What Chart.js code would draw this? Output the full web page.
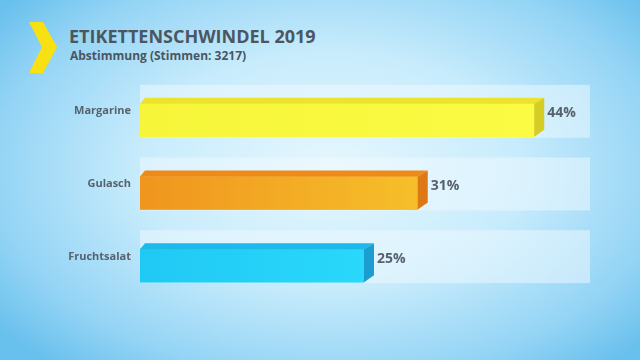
<!DOCTYPE html>
<html><head><meta charset="utf-8">
<script src="https://cdn.jsdelivr.net/npm/chart.js@4/dist/chart.umd.min.js"></script>
<style>
html,body{margin:0;padding:0;width:640px;height:360px;overflow:hidden;}
body{background:
 radial-gradient(ellipse 420px 260px at 330px 170px, rgba(230,247,254,1) 0%, rgba(200,236,252,1) 45%, rgba(148,212,245,1) 80%, rgba(104,192,237,1) 100%);
 background-color:#8fd0f0;position:relative;font-family:"Open Sans",sans-serif;}
#wrap{position:absolute;left:0;top:0;width:640px;height:360px;}
#title{position:absolute;left:69px;top:24px;font-weight:700;font-size:18px;color:#4b5661;line-height:24px;white-space:nowrap;}
#sub{position:absolute;left:70px;top:47px;font-weight:700;font-size:12px;color:#4b5661;line-height:18px;white-space:nowrap;}
svg{position:absolute;left:0;top:0;}
</style></head>
<body>
<svg width="80" height="90"><polygon points="29,22 43,22 57,47 43,73 29,73 42,47" fill="#f9e012"/></svg>
<div id="title">ETIKETTENSCHWINDEL 2019</div>
<div id="sub">Abstimmung (Stimmen: 3217)</div>
<div id="wrap"><canvas id="c" width="640" height="360"></canvas></div>
<script>
const categories = ["Margarine", "Gulasch", "Fruchtsalat"];
const values = [44, 31, 25];
const valueLabels = ["44%", "31%", "25%"];
const axisMax = 50;

const frontColors = ["#f9f83e", "#f4a823", "#25d3f8"];
const topColors = ["#ebe32c", "#ee8a18", "#1cb9ea"];
const sideColors = ["#d6cd22", "#de7814", "#1b9dd2"];

const DX = 10, DY = 6;

const panelPlugin = {
  id: 'panels',
  beforeDatasetsDraw(chart) {
    const ctx = chart.ctx, area = chart.chartArea;
    const meta = chart.getDatasetMeta(0);
    ctx.save();
    meta.data.forEach(bar => {
      const top = bar.y - bar.height / 2 - 19;
      const bot = bar.y + bar.height / 2 + 1;
      ctx.fillStyle = 'rgba(240,250,255,0.5)';
      ctx.fillRect(area.left, top, area.right + 2 - area.left, bot - top);
    });
    ctx.restore();
  },
  afterDatasetsDraw(chart) {
    const ctx = chart.ctx;
    const meta = chart.getDatasetMeta(0);
    ctx.save();
    meta.data.forEach((bar, i) => {
      const x0 = bar.base, x1 = bar.x;
      const y0 = bar.y - bar.height / 2, y1 = bar.y + bar.height / 2;
      const g = ctx.createLinearGradient(x0, 0, x1, 0);
      if (i === 1) { g.addColorStop(0, '#f0951e'); g.addColorStop(1, '#f6bf2a'); }
      else if (i === 2) { g.addColorStop(0, '#20c9f4'); g.addColorStop(1, '#2ad8fb'); }
      else { g.addColorStop(0, '#f6f53a'); g.addColorStop(1, '#fbfb44'); }
      ctx.fillStyle = g;
      ctx.fillRect(x0, y0, x1 - x0, y1 - y0);
      ctx.beginPath();
      ctx.moveTo(x0, y0);
      ctx.lineTo(x0 + 5, y0 - DY);
      ctx.lineTo(x1 + DX, y0 - DY);
      ctx.lineTo(x1, y0);
      ctx.closePath();
      ctx.fillStyle = topColors[i];
      ctx.fill();
      ctx.beginPath();
      ctx.moveTo(x1, y0);
      ctx.lineTo(x1 + DX, y0 - DY);
      ctx.lineTo(x1 + DX, y1 - DY - 1);
      ctx.lineTo(x1, y1);
      ctx.closePath();
      ctx.fillStyle = sideColors[i];
      ctx.fill();
      ctx.fillStyle = '#58626c';
      ctx.font = 'bold 14px "Open Sans"';
      ctx.textAlign = 'left';
      ctx.textBaseline = 'middle';
      ctx.fillText(valueLabels[i], x1 + DX + 3, bar.y - 7);
    });
    ctx.restore();
  }
};

new Chart(document.getElementById('c'), {
  type: 'bar',
  data: {
    labels: categories,
    datasets: [{
      data: values,
      backgroundColor: frontColors,
      borderWidth: 0,
      barThickness: 33
    }]
  },
  options: {
    indexAxis: 'y',
    responsive: false,
    animation: false,
    layout: { padding: { top: 84, bottom: 58, left: 0, right: 52 } },
    plugins: { legend: { display: false }, tooltip: { enabled: false } },
    scales: {
      x: { display: false, min: 0, max: axisMax },
      y: {
        grid: { display: false, drawTicks: false },
        border: { display: false },
        afterFit: s => { s.width = 140; },
        ticks: {
          padding: 9,
          labelOffset: -9,
          color: '#58626c',
          font: { family: 'Open Sans', weight: 'bold', size: 11 }
        }
      }
    }
  },
  plugins: [panelPlugin]
});
</script>
</body></html>
